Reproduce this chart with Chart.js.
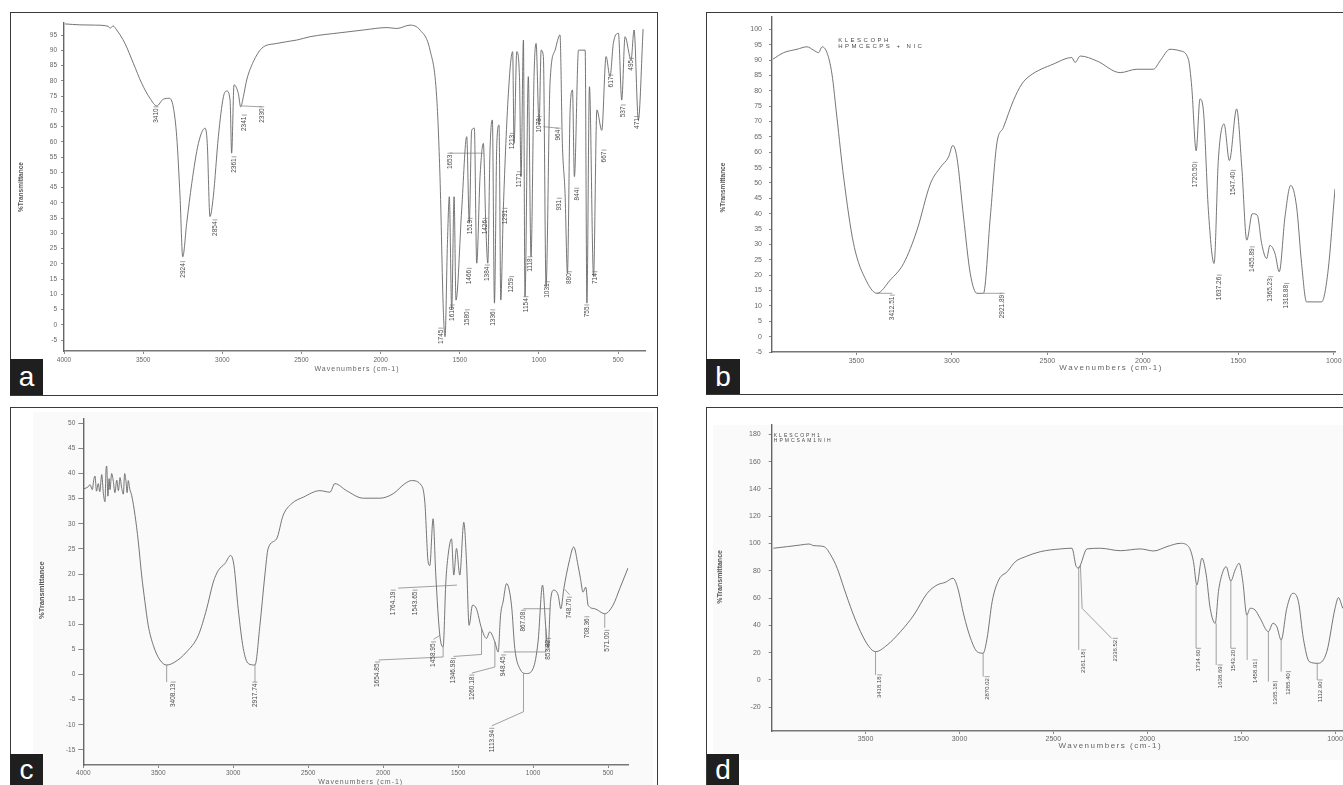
<!DOCTYPE html>
<html>
<head>
<meta charset="utf-8">
<script src="https://cdn.jsdelivr.net/npm/chart.js@4.4.0/dist/chart.umd.min.js"></script>
<style>
  body { margin: 0; width: 1343px; height: 785px; overflow: hidden; background: #fff; position: relative; font-family: "Liberation Sans", Arial, sans-serif; }
  .panel { position: absolute; border: 1px solid #3a3a3a; box-sizing: border-box; }
  .tint { position: absolute; background: #fafafa; }
  .tag { position: absolute; background: #1f1f1f; color: #fff; font-size: 28px; text-align: center; }
  canvas { position: absolute; }
</style>
</head>
<body>
<div class="panel" style="left:10px;top:12px;width:648px;height:384px"></div>
<div class="panel" style="left:706px;top:12px;width:700px;height:383px"></div>
<div class="panel" style="left:10px;top:407px;width:648px;height:400px"></div>
<div class="panel" style="left:706px;top:407px;width:700px;height:400px"></div>
<div class="tint" style="left:33px;top:412px;width:620px;height:373px"></div>
<div class="tint" style="left:713px;top:425px;width:630px;height:335px"></div>

<canvas id="chartA" width="645" height="381" style="left:11px;top:13px"></canvas>
<canvas id="chartB" width="660" height="380" style="left:707px;top:13px"></canvas>
<canvas id="chartC" width="645" height="377" style="left:11px;top:408px"></canvas>
<canvas id="chartD" width="660" height="377" style="left:707px;top:408px"></canvas>

<div class="tag" style="left:10px;top:359px;width:33px;height:36px;line-height:36px">a</div>
<div class="tag" style="left:706px;top:359px;width:34px;height:35px;line-height:36px">b</div>
<div class="tag" style="left:10px;top:754px;width:33px;height:36px;line-height:32px">c</div>
<div class="tag" style="left:707px;top:754px;width:32px;height:36px;line-height:32px">d</div>

<script>
// ---- spectrum a ----
const aWave = [3994, 3900, 3800, 3720, 3709, 3690, 3667, 3615, 3562, 3509,
  3457, 3414, 3373, 3335, 3310, 3288, 3267, 3250, 3225, 3193,
  3151, 3109, 3095, 3078, 3057, 3025, 2993, 2972, 2951, 2941,
  2926, 2899, 2884, 2867, 2846, 2804, 2751, 2656, 2530, 2446,
  2256, 2109, 1960, 1898, 1814, 1751, 1688, 1646, 1625, 1604,
  1593, 1578, 1566, 1551, 1536, 1524, 1488, 1456, 1440, 1425,
  1408, 1393, 1372, 1351, 1336, 1323, 1309, 1294, 1281, 1266,
  1252, 1241, 1225, 1193, 1166, 1157, 1140, 1123, 1113, 1098,
  1088, 1067, 1050, 1031, 1018, 999, 986, 972, 955, 930,
  898, 867, 852, 835, 820, 803, 788, 776, 750, 708,
  697, 681, 655, 634, 603, 576, 551, 530, 498, 477,
  456, 418, 399, 372, 342];
const aTrans = [98.7, 98.4, 98.3, 97.9, 97.3, 98.0, 96.7, 92.3, 85.8, 79.2,
  74.3, 71.8, 74.0, 74.3, 71.5, 61.7, 42.0, 22.3, 33.3, 46.4,
  59.5, 64.5, 59.5, 35.5, 42.0, 61.7, 74.8, 76.7, 73.7, 56.3,
  78.7, 75.9, 71.5, 74.8, 80.3, 86.3, 90.7, 92.3, 93.4, 94.5,
  95.8, 96.7, 97.5, 97.2, 98.3, 96.7, 90.1, 74.8, 48.6, 4.9,
  -3.9, 26.7, 42.0, 4.9, 42.0, 8.1, 37.7, 61.7, 33.3, 63.8,
  64.5, 20.2, 48.6, 59.5, 33.3, 20.2, 57.2, 67.2, 7.1, 59.5,
  65.5, 8.1, 37.7, 75.9, 89.6, 59.5, 89.6, 81.4, 48.6, 93.4,
  9.2, 81.4, 22.3, 81.4, 92.3, 65.5, 90.1, 88.0, 12.5, 79.2,
  90.1, 95.1, 59.5, 43.1, 16.9, 70.5, 77.0, 48.6, 90.1, 90.1,
  7.1, 78.1, 15.8, 70.5, 63.8, 88.0, 81.4, 92.3, 95.6, 73.7,
  94.5, 86.9, 96.7, 67.2, 97.0];
const aTicksX = [4000, 3500, 3000, 2500, 2000, 1500, 1000, 500];
const aTicksY = [-5, 0, 5, 10, 15, 20, 25, 30, 35, 40, 45, 50, 55, 60, 65, 70, 75, 80, 85, 90, 95];
const aPeaks = [[3419, 71.5, "3410"], [3250, 20.7, "2924"], [3046, 34.4, "2854"], [2926, 55.1, "2361"],
  [2861, 68.8, "2341"], [2751, 71.5, "2330"], [1562, 56.3, "1653"], [1620, -1.1, "1745"],
  [1547, 6.5, "1610"], [1452, 4.9, "1580"], [1435, 34.9, "1513"], [1440, 18.5, "1466"],
  [1340, 34.9, "1426"], [1326, 19.6, "1384"], [1292, 4.9, "1336"], [1214, 38.2, "1291"],
  [1172, 15.8, "1259"], [1168, 62.8, "1213"], [1124, 50.2, "1171"], [1082, 9.2, "1154"],
  [1056, 22.3, "1118"], [999, 68.3, "1078"], [947, 14.1, "1031"], [878, 64.5, "964"],
  [871, 41.5, "931"], [808, 17.4, "880"], [761, 44.8, "844"], [698, 6.5, "755"],
  [646, 17.4, "714"], [589, 57.3, "667"], [546, 81.9, "617"], [467, 72.1, "537"],
  [414, 87.4, "495"], [382, 68.3, "471"]];
const aLeaders = [[[2880, 71.8], [2751, 71.5]], [[1562, 56.3], [1351, 56.3]], [[972, 65.0], [878, 64.5]]];

// ---- spectrum b ----
const bWave = [3937, 3881, 3811, 3759, 3724, 3698, 3680, 3654, 3628, 3602,
  3567, 3515, 3445, 3392, 3323, 3253, 3183, 3113, 3060, 3018,
  2995, 2974, 2939, 2904, 2869, 2835, 2799, 2765, 2730, 2678,
  2634, 2591, 2468, 2372, 2355, 2328, 2241, 2119, 2032, 1945,
  1910, 1858, 1805, 1762, 1744, 1721, 1701, 1683, 1657, 1627,
  1605, 1575, 1547, 1509, 1482, 1456, 1427, 1401, 1378, 1352,
  1335, 1308, 1286, 1256, 1226, 1195, 1169, 1143, 1064, 1030, 994];
const bTrans = [90.3, 92.4, 93.5, 94.3, 93.2, 92.4, 94.3, 92.4, 85.4, 71.3,
  51.9, 30.3, 17.8, 14.1, 18.4, 23.8, 34.6, 49.7, 55.1, 58.4,
  62.2, 58.4, 38.9, 20.6, 14.1, 14.1, 38.9, 62.7, 68.1, 76.8,
  82.2, 84.9, 88.7, 90.8, 89.2, 91.3, 89.7, 85.9, 87.0, 87.0,
  89.7, 93.5, 93.0, 90.3, 81.1, 60.5, 77.3, 73.5, 41.1, 23.8,
  57.3, 69.2, 57.3, 74.1, 55.1, 31.4, 40.0, 39.5, 30.3, 25.4,
  29.7, 27.0, 21.1, 38.9, 49.2, 42.2, 23.8, 11.3, 11.3, 21.6, 48.1];
const bTicksX = [3500, 3000, 2500, 2000, 1500, 1000];
const bTicksY = [-5, 0, 5, 10, 15, 20, 25, 30, 35, 40, 45, 50, 55, 60, 65, 70, 75, 80, 85, 90, 95, 100];
const bPeaks = [[3312, 13.5, "3412.51"], [2737, 14.1, "2921.89"], [1727, 56.7, "1720.50"], [1600, 20.0, "1637.26"],
  [1526, 54.1, "1547.40"], [1427, 29.2, "1455.89"], [1331, 19.5, "1365.23"], [1247, 17.3, "1318.88"]];
const bLeaders = [[[3392, 14.1], [3312, 14.1]], [[2835, 14.1], [2737, 14.1]]];

// ---- spectrum c ----
const cWave = [3995, 3970, 3955, 3940, 3930, 3922, 3912, 3900, 3890, 3877,
  3866, 3855, 3849, 3844, 3836, 3828, 3822, 3811, 3800, 3789,
  3777, 3766, 3755, 3745, 3733, 3724, 3715, 3708, 3700, 3690,
  3677, 3655, 3633, 3611, 3589, 3567, 3533, 3489, 3444, 3389,
  3311, 3233, 3177, 3133, 3100, 3055, 3017, 2995, 2967, 2933,
  2900, 2855, 2822, 2789, 2767, 2711, 2667, 2611, 2533, 2422,
  2355, 2322, 2244, 2133, 2022, 1933, 1855, 1811, 1744, 1722,
  1700, 1689, 1667, 1649, 1622, 1600, 1582, 1567, 1544, 1529,
  1511, 1489, 1462, 1444, 1427, 1404, 1378, 1344, 1311, 1289,
  1255, 1233, 1217, 1200, 1177, 1144, 1122, 1089, 1044, 1000,
  967, 937, 915, 900, 884, 862, 833, 815, 795, 760,
  729, 700, 684, 667, 649, 633, 589, 522, 467, 422, 367];
const cTrans = [37.0, 37.3, 37.8, 36.8, 38.8, 39.5, 36.5, 38.0, 36.4, 39.8,
  36.0, 34.4, 40.5, 41.5, 35.5, 39.0, 36.8, 40.0, 38.5, 36.2,
  38.7, 36.6, 39.2, 37.3, 35.9, 40.0, 38.4, 36.2, 38.6, 36.9,
  35.6, 31.7, 26.4, 19.8, 14.5, 9.8, 5.8, 2.9, 1.9, 2.5,
  4.5, 7.8, 13.1, 18.4, 20.7, 22.1, 23.7, 21.7, 13.1, 5.2,
  2.2, 1.9, 9.8, 19.8, 25.1, 27.0, 31.7, 34.0, 35.3, 36.6,
  36.3, 38.0, 36.6, 35.1, 35.1, 36.0, 38.0, 38.6, 37.6, 34.3,
  22.4, 21.7, 31.0, 19.8, 7.8, 5.5, 18.4, 23.7, 27.0, 19.8,
  25.1, 19.8, 30.3, 22.4, 9.8, 13.8, 13.1, 9.2, 7.2, 8.5,
  6.5, 4.5, 11.8, 14.5, 18.1, 13.8, 5.2, 1.2, 0.2, 1.2,
  6.5, 17.8, 9.2, 5.2, 14.5, 16.8, 15.8, 13.1, 17.1, 22.4,
  25.4, 21.7, 19.1, 16.4, 17.4, 13.8, 13.1, 12.1, 13.8, 17.1, 21.2];
const cTicksX = [4000, 3500, 3000, 2500, 2000, 1500, 1000, 500];
const cTicksY = [-15, -10, -5, 0, 5, 10, 15, 20, 25, 30, 35, 40, 45, 50];
const cPeaks = [[3400, -1.5, "3408.13"], [2855, -1.5, "2917.74"],
  [1932, 16.8, "1764.19"], [1787, 16.8, "1543.65"], [2037, 2.5, "1654.85"], [1664, 6.5, "1458.95"],
  [1531, 3.2, "1346.98"], [1408, -0.1, "1260.18"], [1197, 3.9, "948.45"], [1275, -10.7, "1113.94"],
  [1064, 12.8, "867.08"], [897, 7.2, "853.82"], [757, 15.4, "748.70"], [641, 11.5, "708.36"],
  [507, 8.8, "571.00"]];
const cLeaders = [[[3444, 1.9], [3444, -1.5]], [[2855, 1.9], [2855, -1.5]],
  [[1900, 17.2], [1508, 17.8]], [[2030, 2.9], [1600, 3.5], [1600, 5.5]], [[1664, 7.0], [1622, 7.8]],
  [[1531, 3.6], [1344, 4.0], [1344, 9.2]], [[1408, 0.3], [1255, 1.5], [1255, 6.5]],
  [[1197, 4.5], [915, 4.5], [915, 9.2]], [[1275, -10.2], [1064, -7.4], [1064, 0.2]],
  [[1064, 13.1], [886, 13.1]], [[757, 15.9], [790, 17.0]], [[522, 9.3], [522, 12.1]]];

// ---- spectrum d ----
const dWave = [3991, 3916, 3846, 3802, 3775, 3722, 3686, 3651, 3615, 3571,
  3527, 3482, 3447, 3385, 3314, 3243, 3172, 3119, 3074, 3034,
  3009, 2977, 2941, 2906, 2874, 2853, 2826, 2791, 2746, 2702,
  2649, 2569, 2463, 2401, 2378, 2365, 2356, 2321, 2250, 2144,
  2037, 1966, 1895, 1824, 1780, 1754, 1736, 1709, 1686, 1665,
  1638, 1621, 1603, 1580, 1555, 1532, 1511, 1491, 1470, 1452,
  1426, 1399, 1355, 1331, 1310, 1287, 1257, 1225, 1195, 1169,
  1137, 1089, 1044, 1000, 982, 959];
const dTrans = [96.5, 97.7, 98.9, 99.6, 98.4, 97.7, 91.6, 81.8, 67.2, 50.0,
  35.4, 24.4, 20.7, 25.6, 35.4, 47.6, 63.5, 69.6, 71.6, 74.5,
  67.2, 47.6, 30.5, 20.7, 19.6, 30.5, 57.4, 73.3, 79.3, 86.7,
  90.3, 94.0, 96.0, 96.5, 83.0, 82.0, 84.2, 96.0, 96.5, 94.7,
  96.0, 94.5, 97.7, 100.1, 97.7, 86.7, 69.6, 89.2, 76.9, 52.5,
  41.5, 64.7, 76.9, 83.0, 72.5, 80.6, 85.5, 72.0, 47.6, 52.5,
  51.3, 45.2, 35.4, 41.5, 39.0, 29.3, 52.5, 63.5, 57.4, 30.5,
  13.4, 12.2, 20.7, 52.5, 60.3, 52.5];
const dTicksX = [3500, 3000, 2500, 2000, 1500, 1000];
const dTicksY = [-20, 0, 20, 40, 60, 80, 100, 120, 140, 160, 180];
const dPeaks = [[3425, 3.7, "3418.18"], [2853, 2.4, "2870.02"], [2339, 22.0, "2361.18"], [2170, 30.5, "2336.52"],
  [1727, 23.2, "1734.60"], [1612, 11.0, "1638.69"], [1541, 23.2, "1543.20"], [1426, 14.7, "1458.91"],
  [1319, -1.2, "1365.18"], [1248, 6.1, "1285.40"], [1080, 0, "1112.90"]];
const dLeaders = [[[3447, 20.7], [3447, 3.7]], [[2874, 19.6], [2874, 2.4]], [[2365, 83], [2365, 22]],
  [[2356, 84], [2347, 52.5], [2190, 30.5]], [[1740, 69.6], [1740, 23.2]], [[1633, 41.5], [1633, 11.0]],
  [[1555, 72.5], [1555, 23.2]], [[1468, 47.6], [1468, 14.7]], [[1355, 35.4], [1355, -1.2]],
  [[1287, 29.3], [1287, 6.1]], [[1095, 12.2], [1095, 0]]];

const FONT = "Liberation Sans";

// extra text per canvas (peak labels, leaders, titles)
const textFor = {
  chartA: { peaks: aPeaks, leaders: aLeaders, peakFont: "6.5px " + FONT,
    yTitle: { dx: 43, v: 45.2, font: "bold 6.5px " + FONT },
    xTitle: { w: 2149, dy: 18, font: "7px " + FONT, spacing: "1px" } },
  chartB: { peaks: bPeaks, leaders: bLeaders, peakFont: "6.5px " + FONT,
    yTitle: { dx: 49, v: 48.5, font: "bold 6.5px " + FONT },
    xTitle: { w: 2166, dy: 16, font: "8px " + FONT, spacing: "1.5px" },
    header: { w: 3595, v: 97.5, lines: ["KLESCOPH", "HPMCECPS + NIC"], font: "6px " + FONT, spacing: "2.5px", lh: 6 } },
  chartC: { peaks: cPeaks, leaders: cLeaders, peakFont: "6.5px " + FONT,
    yTitle: { dx: 41.6, v: 16.8, font: "bold 7.5px " + FONT },
    xTitle: { w: 2150, dy: 17, font: "7px " + FONT, spacing: "1px" } },
  chartD: { peaks: dPeaks, leaders: dLeaders, peakFont: "6px " + FONT,
    yTitle: { dx: 52, v: 75.5, font: "bold 7px " + FONT },
    xTitle: { w: 2197, dy: 15, font: "8px " + FONT, spacing: "1.5px" },
    header: { w: 3989, v: 181, lines: ["KLESCOPH1", "HPMCSAM1NIH"], font: "5px " + FONT, spacing: "2px", lh: 5.5 } }
};

const ftirText = {
  id: "ftirText",
  afterDraw(chart) {
    const t = textFor[chart.canvas.id];
    if (!t) return;
    const { ctx, chartArea } = chart;
    const px = (w) => chart.scales.x.getPixelForValue(w);
    const py = (v) => chart.scales.y.getPixelForValue(v);
    ctx.save();
    ctx.strokeStyle = "#7a7a7a";
    ctx.lineWidth = 0.7;
    t.leaders.forEach((line) => {
      ctx.beginPath();
      line.forEach(([w, v], i) => (i ? ctx.lineTo(px(w), py(v)) : ctx.moveTo(px(w), py(v))));
      ctx.stroke();
    });

    ctx.fillStyle = "#4a4a4a";
    ctx.font = t.peakFont;
    ctx.textAlign = "right";
    ctx.textBaseline = "middle";
    t.peaks.forEach(([w, v, s]) => {
      const x = px(w), y = py(v);
      ctx.beginPath();
      ctx.moveTo(x - 2.5, y);
      ctx.lineTo(x + 2.5, y);
      ctx.stroke();
      ctx.save();
      ctx.translate(x, y);
      ctx.rotate(-Math.PI / 2);
      ctx.fillText(s, -1.5, 0);
      ctx.restore();
    });

    if (t.header) {
      ctx.save();
      ctx.font = t.header.font;
      ctx.letterSpacing = t.header.spacing;
      ctx.textAlign = "left";
      ctx.textBaseline = "top";
      t.header.lines.forEach((s, i) => ctx.fillText(s, px(t.header.w), py(t.header.v) + i * t.header.lh));
      ctx.restore();
    }

    // y title
    ctx.save();
    ctx.translate(chartArea.left - t.yTitle.dx, py(t.yTitle.v));
    ctx.rotate(-Math.PI / 2);
    ctx.textAlign = "center";
    ctx.font = t.yTitle.font;
    ctx.fillStyle = "#555";
    ctx.fillText("%Transmittance", 0, 0);
    ctx.restore();

    // x title
    ctx.save();
    ctx.font = t.xTitle.font;
    ctx.letterSpacing = t.xTitle.spacing;
    ctx.textAlign = "center";
    ctx.fillStyle = "#666";
    ctx.fillText("Wavenumbers (cm-1)", px(t.xTitle.w), chartArea.bottom + t.xTitle.dy);
    ctx.restore();
    ctx.restore();
  }
};

function makeSpectrum(id, p) {
  const points = p.wave.map((w, i) => ({ x: w, y: p.trans[i] }));
  const tickFont = (size) => ({ family: FONT, size: size });
  return new Chart(document.getElementById(id), {
    type: "scatter",
    data: {
      datasets: [{
        data: points,
        showLine: true,
        borderColor: "#666",
        borderWidth: 0.9,
        pointRadius: 0,
        cubicInterpolationMode: "monotone",
        fill: false
      }]
    },
    options: {
      responsive: false,
      animation: false,
      events: [],
      layout: { padding: p.pad },
      plugins: { legend: { display: false }, tooltip: { enabled: false } },
      scales: {
        x: {
          type: "linear",
          reverse: true,
          min: p.xMin,
          max: p.xMax,
          afterBuildTicks: (s) => { s.ticks = p.ticksX.map((v) => ({ value: v })); },
          afterFit: (s) => { s.height = p.xh; s.paddingLeft = 0; s.paddingRight = 0; },
          grid: { display: true, drawOnChartArea: false, drawTicks: true, tickLength: 3, color: "#888" },
          border: { display: true, color: "#777", width: 1.6 },
          ticks: { autoSkip: false, maxRotation: 0, minRotation: 0, padding: p.xPad, color: "#666",
            font: tickFont(p.xFont), callback: (v) => String(v) }
        },
        y: {
          type: "linear",
          min: p.yMin,
          max: p.yMax,
          afterBuildTicks: (s) => { s.ticks = p.ticksY.map((v) => ({ value: v })); },
          afterFit: (s) => { s.width = p.yw; s.paddingTop = 0; s.paddingBottom = 0; },
          grid: { display: true, drawOnChartArea: false, drawTicks: true, tickLength: p.yTick, color: "#888" },
          border: { display: true, color: "#666", width: 1.4 },
          ticks: { autoSkip: false, padding: p.yPad, color: "#666",
            font: tickFont(p.yFont), callback: (v) => String(v) }
        }
      }
    },
    plugins: [ftirText]
  });
}

makeSpectrum("chartA", { wave: aWave, trans: aTrans, ticksX: aTicksX, ticksY: aTicksY,
  xMin: 330, xMax: 4000, yMin: -8.6, yMax: 99,
  pad: { left: 3, top: 10, right: 11, bottom: 23 }, yw: 50, xh: 20,
  xPad: 2, yPad: 4, yTick: 3, xFont: 6.5, yFont: 6.5 });

makeSpectrum("chartB", { wave: bWave, trans: bTrans, ticksX: bTicksX, ticksY: bTicksY,
  xMin: 994, xMax: 3942, yMin: -5, yMax: 104,
  pad: { left: 15, top: 4, right: 32, bottom: 21 }, yw: 50, xh: 20,
  xPad: 2, yPad: 7, yTick: 3, xFont: 7, yFont: 7 });

makeSpectrum("chartC", { wave: cWave, trans: cTrans, ticksX: cTicksX, ticksY: cTicksY,
  xMin: 365, xMax: 4000, yMin: -18, yMax: 51,
  pad: { left: 22.3, top: 10.3, right: 27.7, bottom: 5 }, yw: 50, xh: 15,
  xPad: 1, yPad: 3, yTick: 5, xFont: 6.5, yFont: 6.5 });

makeSpectrum("chartD", { wave: dWave, trans: dTrans, ticksX: dTicksX, ticksY: dTicksY,
  xMin: 955, xMax: 4000, yMin: -37.4, yMax: 186.8,
  pad: { left: 14.7, top: 17, right: 23.5, bottom: 34 }, yw: 50, xh: 20,
  xPad: 1, yPad: 8, yTick: 3, xFont: 7, yFont: 7 });
</script>
</body>
</html>
